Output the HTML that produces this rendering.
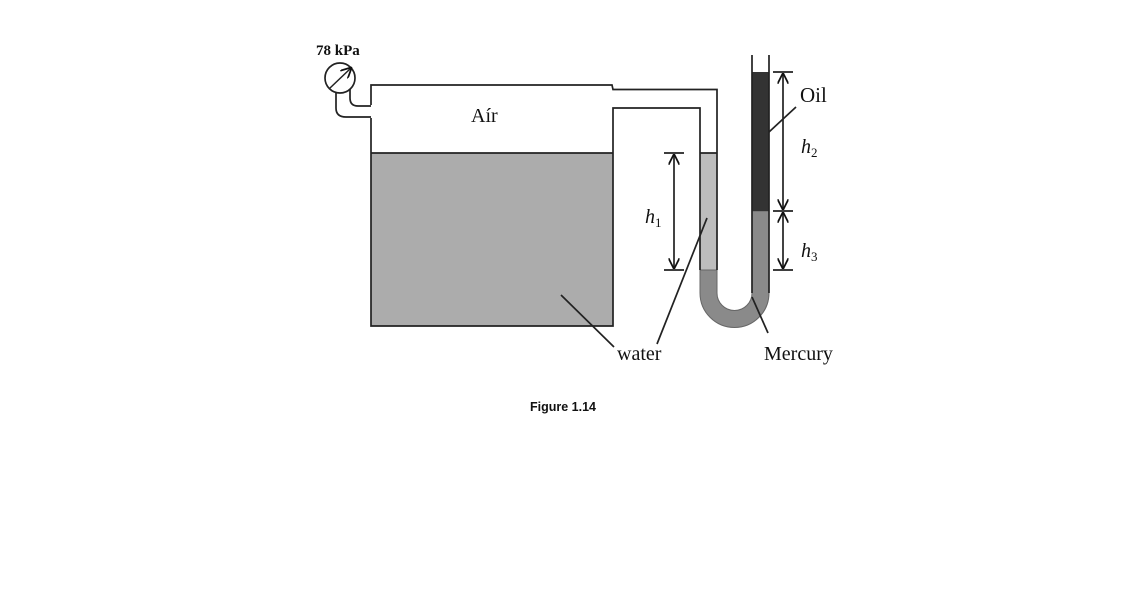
<!DOCTYPE html>
<html><head><meta charset="utf-8"><style>
html,body{margin:0;padding:0;background:#fff;width:1123px;height:608px;overflow:hidden}
svg{display:block}
text{font-family:"Liberation Serif",serif;fill:#111}
</style></head><body>
<svg width="1123" height="608" viewBox="0 0 1123 608" xmlns="http://www.w3.org/2000/svg">
<defs>
<marker id="a" viewBox="0 0 10 10" refX="9" refY="5" markerWidth="11" markerHeight="11" orient="auto-start-reverse" markerUnits="userSpaceOnUse">
<path d="M0,0 L10,5 L0,10" fill="none" stroke="#111" stroke-width="1.6"/></marker>
</defs>
<rect x="371" y="153" width="242" height="173" fill="#acacac"/>
<rect x="700" y="153" width="17" height="117" fill="#bdbdbd"/>
<path d="M700,270 L717,270 L717,293 A17.5,17.5 0 0 0 752,293 L752,211 L769,211 L769,293 A34.5,34.5 0 0 1 700,293 Z" fill="#8a8a8a" stroke="#666" stroke-width="1"/>
<rect x="752" y="72" width="17" height="139" fill="#333"/>
<g fill="none" stroke="#222" stroke-width="1.7">
<path d="M371,105 L371,85 L612,85 L613,89.5 L717,89.5 L717,270"/>
<path d="M371,118 L371,326 L613,326 L613,108 L700,108 L700,270"/>
<line x1="371" y1="153" x2="613" y2="153"/>
<line x1="700" y1="153" x2="717" y2="153"/>
<line x1="752" y1="55" x2="752" y2="293"/>
<line x1="769" y1="55" x2="769" y2="293"/>
<circle cx="340" cy="78" r="15"/>
<path d="M350,89 L350,98 Q350,106 358,106 L371,106"/>
<path d="M336,92 L336,108 Q336,117 346,117 L371,117"/>
<line x1="330" y1="88" x2="351" y2="68" marker-end="url(#a)" stroke-width="1.5"/>
<line x1="664" y1="153" x2="684" y2="153"/>
<line x1="664" y1="270" x2="684" y2="270"/>
<line x1="674" y1="155" x2="674" y2="268" marker-start="url(#a)" marker-end="url(#a)"/>
<line x1="773" y1="72" x2="793" y2="72"/>
<line x1="773" y1="211" x2="793" y2="211"/>
<line x1="773" y1="270" x2="793" y2="270"/>
<line x1="783" y1="74" x2="783" y2="209" marker-start="url(#a)" marker-end="url(#a)"/>
<line x1="783" y1="213" x2="783" y2="268" marker-start="url(#a)" marker-end="url(#a)"/>
<line x1="561" y1="295" x2="614" y2="347"/>
<line x1="707" y1="218" x2="657" y2="344"/>
<line x1="752" y1="297" x2="768" y2="333"/>
<line x1="796" y1="107" x2="769" y2="132"/>
</g>
<text x="316" y="55" font-size="15" font-weight="bold">78 kPa</text>
<text x="471" y="122" font-size="20">Aír</text>
<text x="800" y="102" font-size="21">Oil</text>
<text x="801" y="153" font-size="20" font-style="italic">h<tspan font-size="13" font-style="normal" dy="4">2</tspan></text>
<text x="801" y="257" font-size="20" font-style="italic">h<tspan font-size="13" font-style="normal" dy="4">3</tspan></text>
<text x="645" y="223" font-size="20" font-style="italic">h<tspan font-size="13" font-style="normal" dy="4">1</tspan></text>
<text x="617" y="360" font-size="20">water</text>
<text x="764" y="360" font-size="20">Mercury</text>
<text x="530" y="411" font-size="12.5" font-weight="bold" style="font-family:'Liberation Sans',sans-serif">Figure 1.14</text>
</svg>
</body></html>
